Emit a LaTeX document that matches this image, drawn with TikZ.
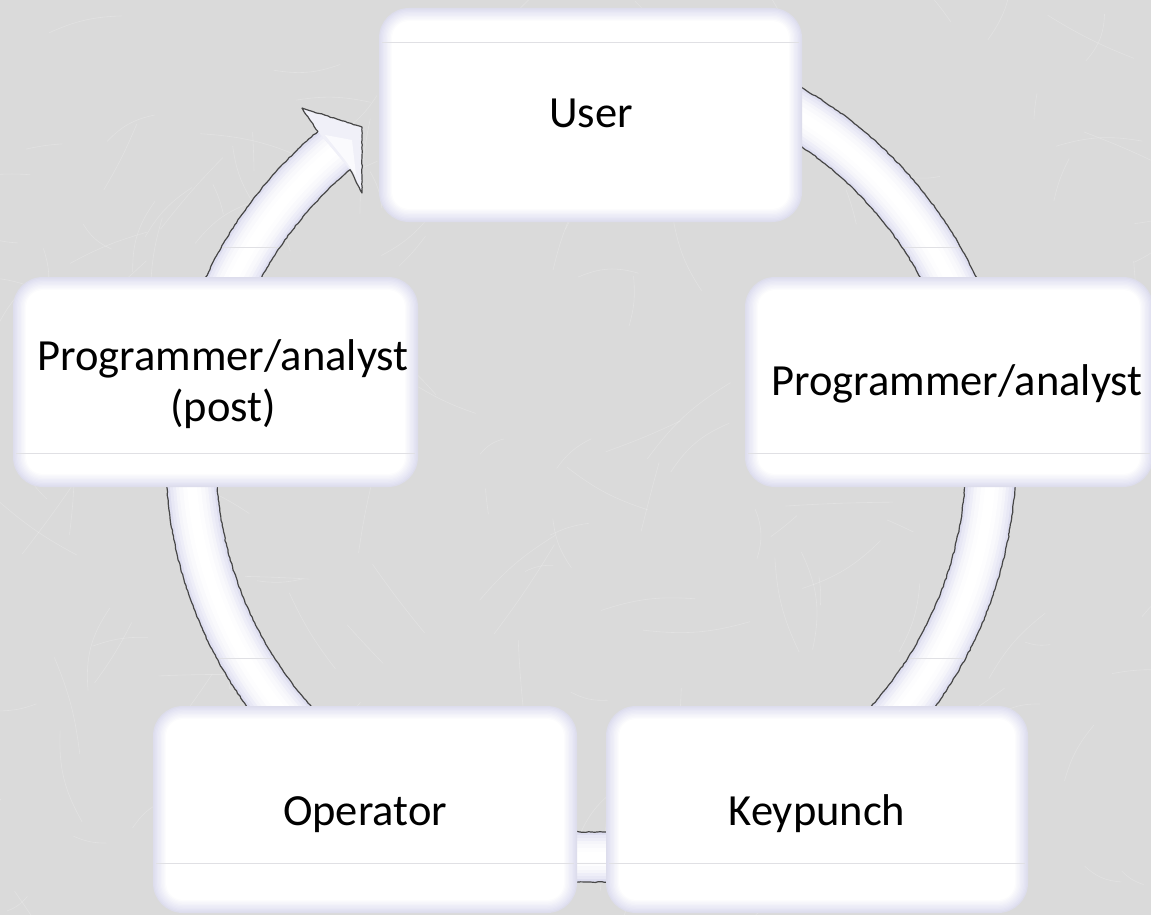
\documentclass[tikz,border=0pt]{standalone}
\usepackage{fontspec}
\setmainfont{Carlito}
\usetikzlibrary{decorations.pathmorphing}
\definecolor{lav}{RGB}{222,222,240}
\definecolor{bg}{RGB}{218,218,218}
\definecolor{pen}{RGB}{70,70,70}
\definecolor{sheencol}{RGB}{224,224,228}
\newcommand\glowbox[6]{%
  \node[box, minimum width={(#4-#2)*1pt}, minimum height={(#5-#3)*1pt}] (#1) at ({(#2+#4)/2},{-(#3+#5)/2}) {};
  \foreach \i in {1,...,10}{
    \pgfmathsetmacro\dd{\i*1.3}
    \pgfmathsetmacro\cc{\i*10}
    \pgfmathsetmacro\rr{30-\dd}
    \fill[white!\cc!lav, rounded corners=\rr pt] (#2+\dd,-#3-\dd) rectangle (#4-\dd,-#5+\dd);
  }
  \draw[sheen] (#2+3,-#6) -- (#4-3,-#6);
}
\begin{document}
\begin{tikzpicture}[x=1pt,y=1pt,
  box/.style={rounded corners=30pt, fill=lav!80!bg, draw=none, inner sep=0pt},
  lbl/.style={font=\fontsize{44.5}{51}\selectfont, text=black, inner sep=0pt},
  sheen/.style={draw=sheencol, line width=0.9pt},
  outline/.style={draw=pen, line width=1.2pt, line join=round,
     decorate, decoration={random steps, segment length=3pt, amplitude=0.45pt}},
  arrowshape/.style={insert path={(664.8,-38.5) arc[start angle=80,end angle=-230,radius=425]
     -- (302,-108) -- (362,-127) -- (362,-193) -- (350,-169.7)
     arc[start angle=-230,end angle=80,radius=375] -- cycle}}]
\useasboundingbox (0,0) rectangle (1151,-915);
\fill[bg] (0,0) rectangle (1151,-915);
% paper texture
\pgfmathsetseed{11}
\foreach \k in {1,...,160}{
  \pgfmathsetmacro\xa{rnd*1151}
  \pgfmathsetmacro\ya{-rnd*915}
  \pgfmathsetmacro\an{rnd*360}
  \pgfmathsetmacro\le{25+rnd*90}
  \pgfmathsetmacro\be{rnd*40-20}
  \draw[white, opacity=0.22, line width=0.6pt] (\xa,\ya) to[bend left=\be] ++(\an:\le);
}
% circular arrow
\fill[lav, arrowshape];
\foreach \w/\c in {44/30,38/50,32/68,26/82,18/94,10/100}{
  \draw[line width=\w pt, white!\c!lav] (660.5,-63.1) arc[start angle=80,end angle=-230,radius=400];
}
\fill[white!55!lav] (317.8,-131.4) -- (302,-108) -- (362,-127) -- (362,-193) -- (350,-169.7) -- cycle;
\fill[white!85!lav] (325,-135) -- (352,-140) -- (356,-175) -- (345,-160) -- cycle;
\begin{scope}
  \clip[arrowshape];
  \draw[sheen] (0,-247) -- (1151,-247);
  \draw[sheen] (0,-658) -- (1151,-658);
  \draw[sheen] (0,-863) -- (1151,-863);
\end{scope}
\draw[outline, arrowshape];
% boxes
\glowbox{user}{379}{8}{802}{222}{42}
\glowbox{prog}{745}{277}{1153}{487}{453}
\glowbox{post}{13}{277}{418}{487}{453}
\glowbox{oper}{153}{706}{577}{913}{863}
\glowbox{keyp}{606}{706}{1028}{913}{863}
% labels
\node[lbl, anchor=base] (tuser) at (591,-128) {User};
\node[lbl, anchor=base] (tprog) at (957,-395) {Programmer/analyst};
\node[lbl, align=center] (tpost) at (223,-384) {Programmer/analyst\\(post)};
\node[lbl, anchor=base] (toper) at (365,-825) {Operator};
\node[lbl, anchor=base] (tkeyp) at (817,-825) {Keypunch};
\end{tikzpicture}
\end{document}
